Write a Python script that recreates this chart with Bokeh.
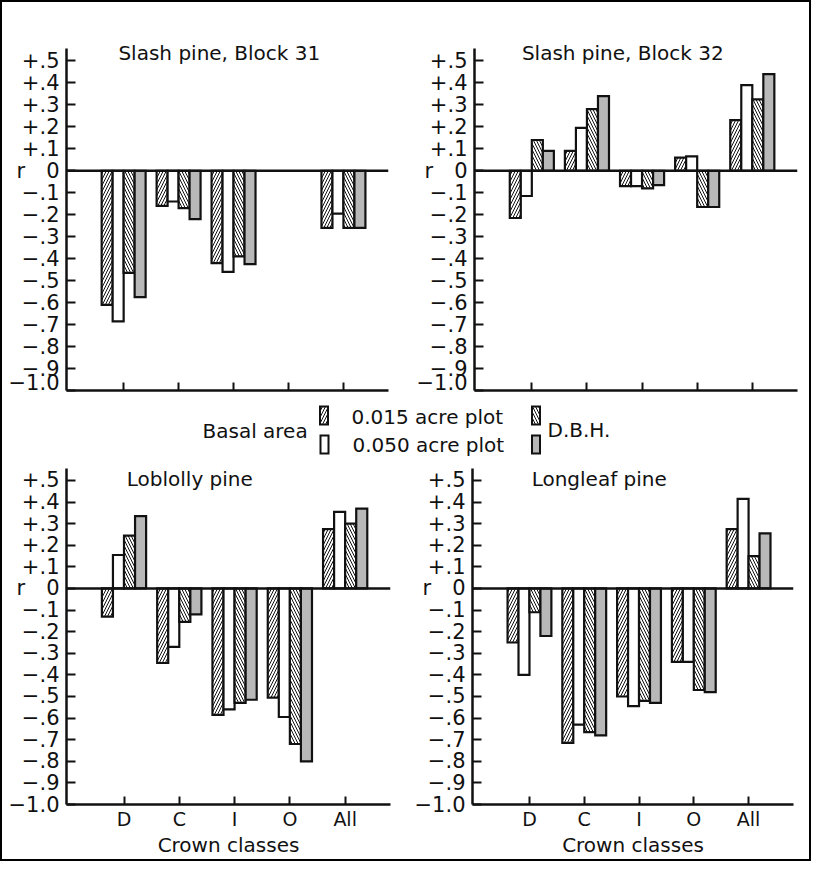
from bokeh.plotting import figure
from bokeh.models import Range1d, FixedTicker, Span, Label
from bokeh.layouts import column, row
from bokeh.embed import file_html
from bokeh.resources import INLINE
from bokeh.core.properties import value

# ---------------- data ----------------
crown_classes = ["D", "C", "I", "O", "All"]
class_pos = [1, 2, 3, 4, 5]

y_ticks = [-1.0, -0.9, -0.8, -0.7, -0.6, -0.5, -0.4, -0.3, -0.2, -0.1,
           0.0, 0.1, 0.2, 0.3, 0.4, 0.5]
y_tick_labels = ["\u22121.0", "\u2212.9", "\u2212.8", "\u2212.7", "\u2212.6",
                 "\u2212.5", "\u2212.4", "\u2212.3", "\u2212.2", "\u2212.1",
                 "r\u2002\u20020", "+.1", "+.2", "+.3", "+.4", "+.5"]

series_labels = ["Basal area, 0.015 acre plot", "Basal area, 0.050 acre plot",
                 "D.B.H., 0.015 acre plot", "D.B.H., 0.050 acre plot"]

# Slash pine, Block 31 (no O class)
slash31_ba015 = [-0.61, -0.16, -0.42, None, -0.26]
slash31_ba050 = [-0.685, -0.14, -0.46, None, -0.195]
slash31_dbh015 = [-0.465, -0.17, -0.39, None, -0.26]
slash31_dbh050 = [-0.575, -0.22, -0.425, None, -0.26]

# Slash pine, Block 32
slash32_ba015 = [-0.215, 0.09, -0.07, 0.06, 0.23]
slash32_ba050 = [-0.115, 0.195, -0.07, 0.065, 0.39]
slash32_dbh015 = [0.14, 0.28, -0.08, -0.165, 0.325]
slash32_dbh050 = [0.09, 0.34, -0.065, -0.165, 0.44]

# Loblolly pine
loblolly_ba015 = [-0.13, -0.345, -0.585, -0.505, 0.275]
loblolly_ba050 = [0.155, -0.27, -0.56, -0.595, 0.355]
loblolly_dbh015 = [0.245, -0.155, -0.53, -0.72, 0.30]
loblolly_dbh050 = [0.335, -0.12, -0.515, -0.80, 0.37]

# Longleaf pine
longleaf_ba015 = [-0.25, -0.715, -0.50, -0.34, 0.275]
longleaf_ba050 = [-0.40, -0.63, -0.545, -0.34, 0.415]
longleaf_dbh015 = [-0.11, -0.665, -0.52, -0.47, 0.15]
longleaf_dbh050 = [-0.22, -0.68, -0.53, -0.48, 0.255]

# ---------------- styles ----------------
FONT = "DejaVu Sans"
INK = "#111111"
GRAY = "#b8b8b8"
bar_styles = [
    dict(fill_color="white", hatch_pattern="right_diagonal_line", hatch_color=INK, hatch_weight=1.0, hatch_scale=6),
    dict(fill_color="white"),
    dict(fill_color="white", hatch_pattern="left_diagonal_line", hatch_color=INK, hatch_weight=1.0, hatch_scale=6),
    dict(fill_color=GRAY),
]
bar_offsets = [-0.3, -0.1, 0.1, 0.3]
BAR_W = 0.2
Y_AXIS_TOP = 0.555


def make_panel(title, tx, ty, series, bottom_labels, y_top, width, height, bl, br, bt, bb):
    p = figure(width=width, height=height,
               x_range=Range1d(-0.04, 5.82), y_range=Range1d(-1.0, y_top),
               output_backend="svg", toolbar_location=None,
               min_border_left=bl, min_border_right=br,
               min_border_top=bt, min_border_bottom=bb,
               background_fill_color="white", border_fill_color="white")
    p.outline_line_color = None
    p.xgrid.visible = False
    p.ygrid.visible = False

    for vals, off, style in zip(series, bar_offsets, bar_styles):
        xs = [c + off for c, v in zip(class_pos, vals) if v is not None]
        tops = [v for v in vals if v is not None]
        p.vbar(x=xs, top=tops, bottom=0, width=BAR_W,
               line_color=INK, line_width=2.2, line_join="miter", **style)

    p.add_layout(Span(location=0, dimension="width", line_color=INK, line_width=2.5))

    yax = p.yaxis[0]
    yax.ticker = FixedTicker(ticks=y_ticks)
    yax.bounds = (-1.0, Y_AXIS_TOP)
    yax.major_label_overrides = dict(zip(y_ticks, y_tick_labels))
    yax.major_tick_in = 9
    yax.major_tick_out = 0
    yax.minor_tick_line_color = None
    yax.axis_line_width = 2.5
    yax.axis_line_color = INK
    yax.major_tick_line_width = 2
    yax.major_tick_line_color = INK
    yax.major_label_text_font = FONT
    yax.major_label_text_font_size = "21px"
    yax.major_label_text_color = INK
    yax.major_label_standoff = 7

    xax = p.xaxis[0]
    xax.ticker = FixedTicker(ticks=class_pos)
    xax.major_tick_in = 8
    xax.major_tick_out = 0
    xax.minor_tick_line_color = None
    xax.axis_line_width = 2.5
    xax.axis_line_color = INK
    xax.major_tick_line_width = 2
    xax.major_tick_line_color = INK
    if bottom_labels:
        xax.major_label_overrides = dict(zip(class_pos, crown_classes))
        xax.major_label_text_font = FONT
        xax.major_label_text_font_size = "19px"
        xax.major_label_text_color = INK
        xax.major_label_standoff = 3
        xax.axis_label = "Crown classes"
        xax.axis_label_text_font = FONT
        xax.axis_label_text_font_size = "20px"
        xax.axis_label_text_font_style = "normal"
        xax.axis_label_text_color = INK
        xax.axis_label_standoff = 0
    else:
        xax.major_label_overrides = {c: "" for c in class_pos}
        xax.major_label_standoff = 0

    p.add_layout(Label(x=tx, y=ty, text=title, text_font=FONT, text_font_size="20px",
                       text_color=INK, text_baseline="alphabetic", text_align="left"))
    return p


tl = make_panel("Slash pine, Block 31", 0.905, 0.535,
                [slash31_ba015, slash31_ba050, slash31_dbh015, slash31_dbh050],
                False, 0.62, 409, 392, 64, 23, 32, 4)
tr = make_panel("Slash pine, Block 32", 0.82, 0.535,
                [slash32_ba015, slash32_ba050, slash32_dbh015, slash32_dbh050],
                False, 0.62, 398, 392, 63, 12, 32, 4)
bl_ = make_panel("Loblolly pine", 1.05, 0.505,
                 [loblolly_ba015, loblolly_ba050, loblolly_dbh015, loblolly_dbh050],
                 True, 0.56, 409, 403, 64, 21, 11, 49)
br_ = make_panel("Longleaf pine", 1.04, 0.505,
                 [longleaf_ba015, longleaf_ba050, longleaf_dbh015, longleaf_dbh050],
                 True, 0.56, 398, 403, 58, 16, 11, 49)

# ---------------- legend strip ----------------
LEG_W, LEG_H = 807, 62
leg = figure(width=LEG_W, height=LEG_H, x_range=Range1d(0, LEG_W), y_range=Range1d(LEG_H, 0),
             output_backend="svg", toolbar_location=None, min_border=0,
             background_fill_color="white", border_fill_color="white")
leg.axis.visible = False
leg.xgrid.visible = False
leg.ygrid.visible = False
leg.outline_line_color = None

swatch_x = [321.5, 322.0, 533.5, 533.5]
swatch_y = [21.0, 50.0, 21.0, 50.0]
for sx, sy, style in zip(swatch_x, swatch_y, bar_styles):
    leg.rect(x=[sx], y=[sy], width=8, height=18, line_color=INK, line_width=2,
             line_join="miter", **style)

legend_texts = ["Basal area", "0.015 acre plot", "0.050 acre plot", "D.B.H."]
legend_tx = [200, 349, 350, 545]
legend_ty = [36, 22, 50, 35]
leg.text(x=legend_tx, y=legend_ty, text=legend_texts, text_font=value(FONT),
         text_font_size="20px", text_color=INK, text_baseline="middle", text_align="left")

layout = column(row(tl, tr), leg, row(bl_, br_),
                styles={"border": "2px solid black", "background-color": "white"})

open("out.html", "w").write(file_html(layout, INLINE))
